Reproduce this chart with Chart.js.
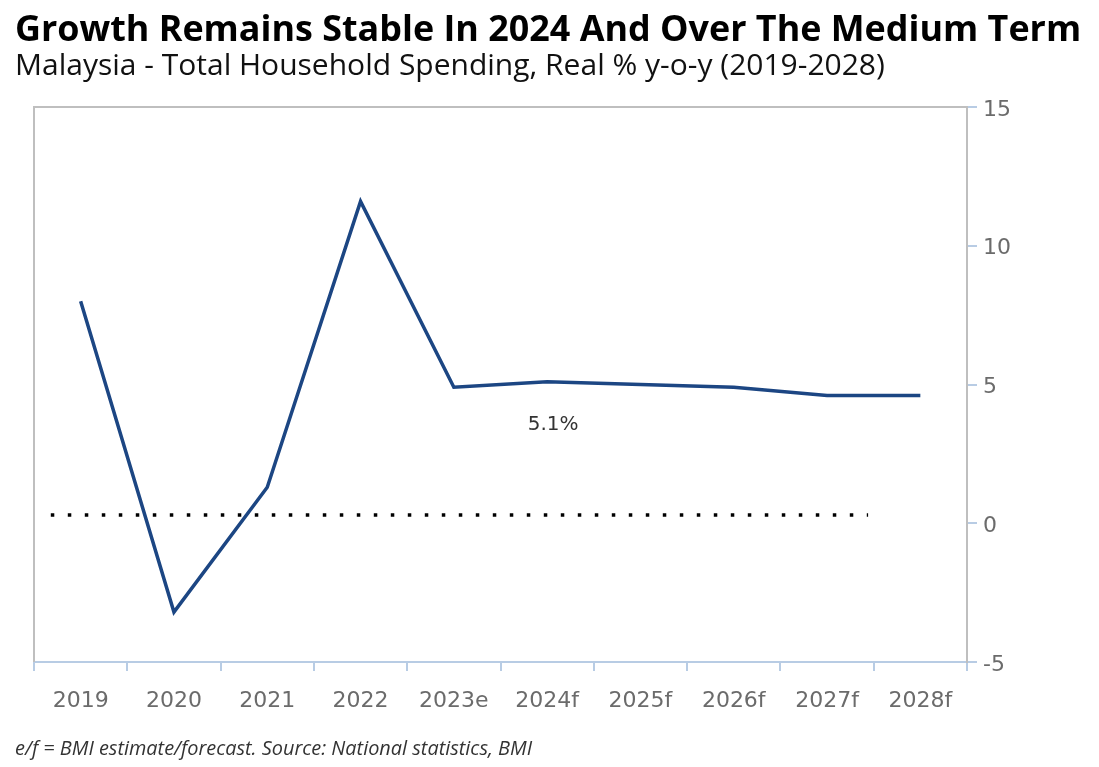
<!DOCTYPE html>
<html>
<head>
<meta charset="utf-8">
<script src="https://cdn.jsdelivr.net/npm/chart.js@4.4.1/dist/chart.umd.min.js"></script>
<style>
  html, body { margin: 0; padding: 0; background: #fff; }
  #wrap { position: relative; width: 1099px; height: 767px; overflow: hidden; }
  #c { position: absolute; left: 0; top: 0; }
  .txt { position: absolute; left: 15px; white-space: nowrap; line-height: 1; font-family: "Open Sans", sans-serif; }
  #title { top: 10px; font-size: 35.9px; font-weight: 700; color: #000; }
  #subtitle { top: 49px; font-size: 30px; color: #111; }
  #footer { top: 738px; font-size: 19.9px; font-style: italic; color: #333; }
</style>
</head>
<body>
<div id="wrap">
  <canvas id="c" width="1099" height="767"></canvas>
  <div class="txt" id="title">Growth Remains Stable In 2024 And Over The Medium Term</div>
  <div class="txt" id="subtitle">Malaysia - Total Household Spending, Real % y-o-y (2019-2028)</div>
  <div class="txt" id="footer">e/f = BMI estimate/forecast. Source: National statistics, BMI</div>
</div>
<script>
const years = ['2019', '2020', '2021', '2022', '2023e', '2024f', '2025f', '2026f', '2027f', '2028f'];
const spending = [8.0, -3.2, 1.3, 11.6, 4.9, 5.1, 5.0, 4.9, 4.6, 4.6];
const yTicks = [-5, 0, 5, 10, 15];
const refLevel = 0.3;
const refSpan = [-0.32, 8.44];
const calloutIndex = 5;
const calloutText = '5.1%';

const frame = {
  id: 'frame',
  beforeDatasetsDraw(chart) {
    const { ctx, chartArea: a } = chart;
    ctx.save();
    ctx.strokeStyle = '#bfbfbf';
    ctx.lineWidth = 2;
    ctx.beginPath();
    ctx.moveTo(a.left, a.bottom);
    ctx.lineTo(a.left, a.top);
    ctx.lineTo(a.right, a.top);
    ctx.stroke();
    ctx.restore();
  }
};

const callout = {
  id: 'callout',
  afterDatasetsDraw(chart) {
    const pt = chart.getDatasetMeta(0).data[calloutIndex];
    const ctx = chart.ctx;
    ctx.save();
    ctx.font = '20px "DejaVu Sans", sans-serif';
    ctx.fillStyle = '#333';
    ctx.textAlign = 'center';
    ctx.textBaseline = 'middle';
    ctx.fillText(calloutText, pt.x + 6, pt.y + 43);
    ctx.restore();
  }
};

new Chart(document.getElementById('c'), {
  type: 'line',
  data: {
    labels: years,
    datasets: [{
      data: spending,
      borderColor: '#1c4683',
      borderWidth: 3.5,
      pointRadius: 0,
      tension: 0,
      yAxisID: 'y'
    }, {
      data: [{ x: refSpan[0], y: refLevel }, { x: refSpan[1], y: refLevel }],
      xAxisID: 'x2',
      yAxisID: 'y',
      borderColor: '#000',
      borderWidth: 3.5,
      borderDash: [3.5, 13.5],
      borderCapStyle: 'butt',
      pointRadius: 0
    }]
  },
  options: {
    responsive: false,
    animation: false,
    layout: { padding: { left: 34, top: 107, right: 0, bottom: 0 } },
    plugins: { legend: { display: false }, tooltip: { enabled: false } },
    scales: {
      x: {
        type: 'category',
        offset: true,
        grid: { offset: true, drawOnChartArea: false, color: '#b8cce4', lineWidth: 2, tickLength: 9 },
        border: { color: '#b8cce4', width: 2 },
        ticks: { color: '#6b6b6b', font: { family: 'DejaVu Sans', size: 22 }, padding: 17, maxRotation: 0, autoSkip: false },
        afterFit(s) { s.height = 105; }
      },
      x2: {
        type: 'linear',
        display: false,
        min: -0.5,
        max: years.length - 0.5
      },
      y: {
        position: 'right',
        min: yTicks[0],
        max: yTicks[yTicks.length - 1],
        afterBuildTicks(s) { s.ticks = yTicks.map(v => ({ value: v })); },
        grid: { drawOnChartArea: false, color: '#b8cce4', lineWidth: 2, tickLength: 10 },
        border: { color: '#bfbfbf', width: 2 },
        ticks: { color: '#6b6b6b', font: { family: 'DejaVu Sans', size: 22 }, padding: 6, labelOffset: 3 },
        afterFit(s) { s.width = 132; }
      }
    }
  },
  plugins: [frame, callout]
});
</script>
</body>
</html>
